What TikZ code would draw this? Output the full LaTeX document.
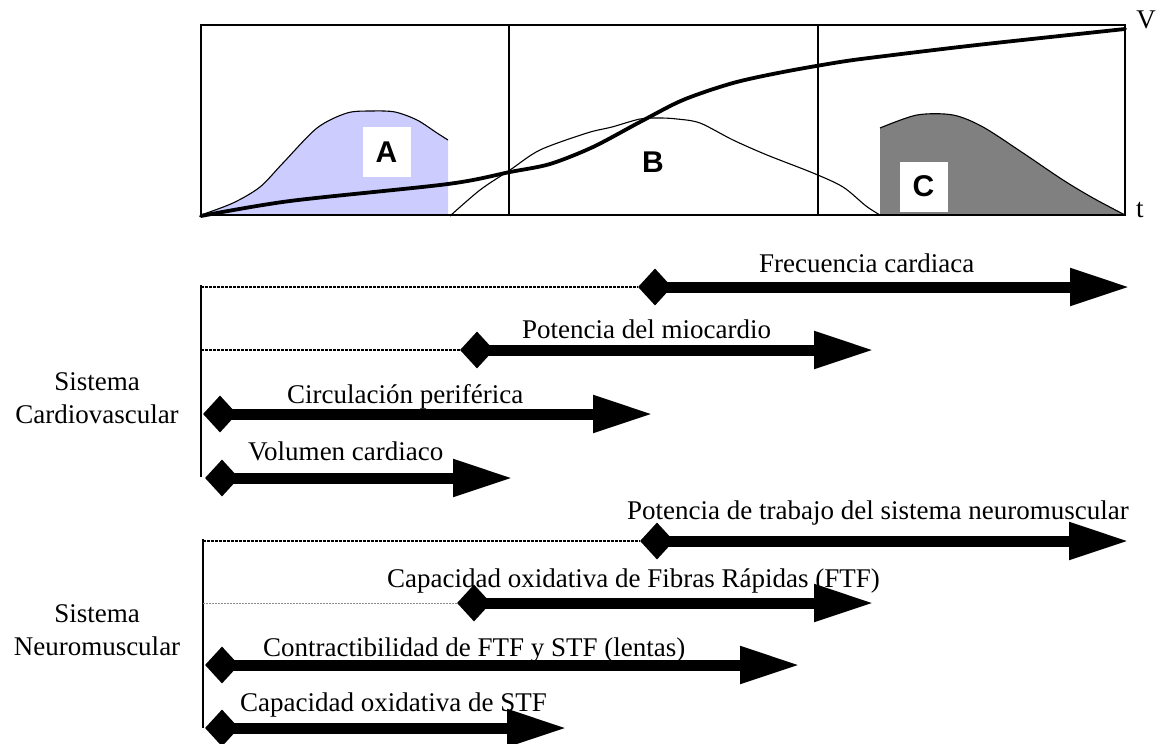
\documentclass[tikz,border=0pt]{standalone}
\usepackage{fontspec}
\setmainfont{Liberation Serif}
\newfontfamily\abcfont{Liberation Sans}
\usetikzlibrary{arrows.meta,shapes.geometric}
\definecolor{lilac}{HTML}{CCCCFF}
\definecolor{slate}{HTML}{808080}
\begin{document}
\begin{tikzpicture}[x=1pt,y=-1pt,
  diam/.style={diamond,fill=black,draw=none,inner sep=0pt,minimum width=34pt,minimum height=37pt},
  bar/.style={line width=11pt,-{Triangle[length=60pt,width=35pt]}},
  lead/.style={line width=2pt,dash pattern=on 3pt off 1pt},
  faint/.style={line width=0.9pt,black!45,dash pattern=on 2pt off 1pt},
  lbl/.style={anchor=base west,inner sep=0pt,font=\fontsize{27}{33}\selectfont},
  sys/.style={anchor=base,inner sep=0pt,font=\fontsize{27}{33}\selectfont},
  tag/.style={fill=white,minimum width=48pt,minimum height=50pt,inner sep=0pt,font=\abcfont\bfseries\fontsize{30}{30}\selectfont},
  frame/.style={line width=1.4pt},
]
\useasboundingbox (0,0) rectangle (1165,744);

% ---- phase chart ----
\fill[lilac] plot[smooth] coordinates {(201,215) (233,203) (260,187) (283,163) (317,128) (347,113) (372,111) (395,112) (417,120) (437,133) (448,140)} -- (448,215) -- cycle;
\draw[line width=1.1pt] plot[smooth] coordinates {(201,215) (233,203) (260,187) (283,163) (317,128) (347,113) (372,111) (395,112) (417,120) (437,133) (448,140)};

\fill[slate] (880,215) -- plot[smooth] coordinates {(880,128) (917,115) (953,115) (983,127) (1023,153) (1063,180) (1093,198) (1125,215)} -- cycle;
\draw[line width=1.1pt] plot[smooth] coordinates {(880,128) (917,115) (953,115) (983,127) (1023,153) (1063,180) (1093,198) (1125,215)};

\draw[line width=1.1pt] plot[smooth] coordinates {(450,216) (480,190) (510,170) (540,150) (587,133) (612,127) (640,119) (660,118) (677,119) (700,123) (733,140) (767,155) (813,173) (843,187) (866,206) (880,215)};

\draw[frame] (201,25) rectangle (1125,215);
\draw[frame] (509,25) -- (509,215);
\draw[line width=2.2pt] (818,25) -- (818,215);

\draw[line width=3.8pt,line cap=round] plot[smooth] coordinates {(201,216) (290,201) (448,184) (510,172) (550,164) (593,147) (640,122) (683,100) (733,83) (783,72) (840,62) (877,57) (977,45) (1125,29)};

\node[tag] (tA) at (386.5,152) {A};
\node[tag,fill=none] (tB) at (653,162) {B};
\node[tag] (tC) at (923.5,186.5) {C};
\node[sys] (vlab) at (1146,28) {V};
\node[lbl] (tlab) at (1136,217) {t};

% ---- cardiovascular system ----
\coordinate (cvA) at (201,285);
\coordinate (cvB) at (201,350);
\coordinate (cvZ) at (201,477);
\draw[line width=1.4pt] (cvA) -- (cvZ);

\node[sys] (cv1) at (97,390) {Sistema};
\node[sys] (cv2) at (97,423) {Cardiovascular};

\node[diam] (d1) at (655,287) {};
\coordinate (e1) at (1130,287);
\draw[lead] (201,287) -- (d1.west);
\draw[bar] (d1.center) -- (e1);
\node[lbl] (l1) at (759,272) {Frecuencia cardiaca};

\node[diam] (d2) at (477,350) {};
\coordinate (e2) at (874,350);
\draw[lead] (cvB) -- (d2.west);
\draw[bar] (d2.center) -- (e2);
\node[lbl] (l2) at (522,338) {Potencia del miocardio};

\node[diam] (d3) at (220,414) {};
\coordinate (e3) at (653,414);
\draw[bar] (d3.center) -- (e3);
\node[lbl] (l3) at (287,403) {Circulación periférica};

\node[diam] (d4) at (222,478) {};
\coordinate (e4) at (513,478);
\draw[bar] (d4.center) -- (e4);
\node[lbl] (l4) at (248,460) {Volumen cardiaco};

% ---- neuromuscular system ----
\coordinate (nmA) at (203,539);
\coordinate (nmB) at (203,603);
\coordinate (nmZ) at (203,728);
\draw[line width=1.4pt] (nmA) -- (nmZ);

\node[sys] (nm1) at (97,622) {Sistema};
\node[sys] (nm2) at (97,655) {Neuromuscular};

\node[diam] (d5) at (657,541) {};
\coordinate (e5) at (1129,541);
\draw[lead] (203,541) -- (d5.west);
\draw[bar] (d5.center) -- (e5);
\node[lbl] (l5) at (627,519) {Potencia de trabajo del sistema neuromuscular};

\node[diam] (d6) at (474,603) {};
\coordinate (e6) at (874,603);
\draw[faint] (nmB) -- (d6.west);
\draw[bar] (d6.center) -- (e6);
\node[lbl] (l6) at (387,587) {Capacidad oxidativa de Fibras Rápidas (FTF)};

\node[diam] (d7) at (222,665) {};
\coordinate (e7) at (800,665);
\draw[bar] (d7.center) -- (e7);
\node[lbl] (l7) at (263,656) {Contractibilidad de FTF y STF (lentas)};

\node[diam] (d8) at (222,728) {};
\coordinate (e8) at (567,728);
\draw[bar] (d8.center) -- (e8);
\node[lbl] (l8) at (240,711) {Capacidad oxidativa de STF};
\end{tikzpicture}
\end{document}
